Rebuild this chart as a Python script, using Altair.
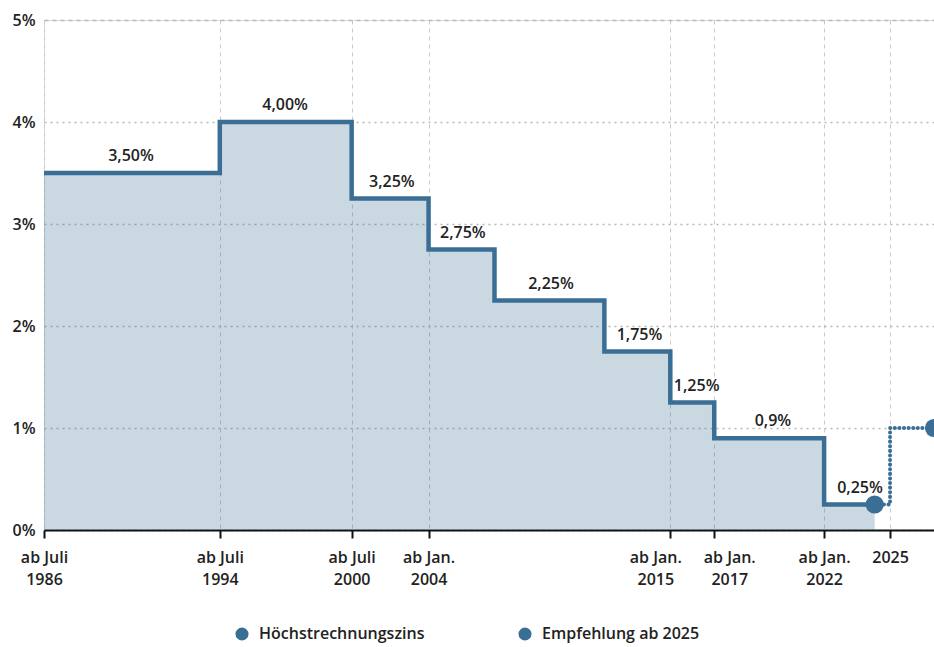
import altair as alt
import pandas as pd

# --- data ---
step_years = [1986.5, 1994.5, 2000.5, 2004, 2007, 2012, 2015, 2017, 2022, 2024.3]
step_rates = [3.5, 4.0, 3.25, 2.75, 2.25, 1.75, 1.25, 0.9, 0.25, 0.25]

rec_years = [2024.3, 2025, 2027]
rec_rates = [0.25, 1.0, 1.0]

label_texts = ["3,50%", "4,00%", "3,25%", "2,75%", "2,25%", "1,75%", "1,25%", "0,9%", "0,25%"]
label_years = [1990.46, 1997.47, 2002.33, 2005.56, 2009.57, 2013.6, 2016.2, 2019.67, 2023.63]
label_rates = [3.5, 4.0, 3.25, 2.75, 2.25, 1.75, 1.25, 0.9, 0.25]

tick_values = [1986.5, 1994.5, 2000.5, 2004, 2015, 2017, 2022, 2025]
tick_labels = ["ab Juli|1986", "ab Juli|1994", "ab Juli|2000", "ab Jan.|2004",
               "ab Jan.|2015", "ab Jan.|2017", "ab Jan.|2022", "2025"]

dot_years = [2024.3, 2027]
dot_rates = [0.25, 1.0]
series_names = ["Höchstrechnungszins", "Empfehlung ab 2025"]

# --- styling ---
LINE = "#3b6e95"
FONT = "Open Sans"
FW = 600
FS = 16
TXT = "#222222"

step_df = pd.DataFrame({"year": step_years, "rate": step_rates})
rec_df = pd.DataFrame({"year": rec_years, "rate": rec_rates})
lab_df = pd.DataFrame({"year": label_years, "rate": label_rates, "text": label_texts})
dot_df = pd.DataFrame({"year": dot_years, "rate": dot_rates, "series": series_names})

label_expr = "split([" + ",".join("'%s'" % t for t in tick_labels) + "][indexof([" + \
    ",".join(str(v) for v in tick_values) + "], datum.value)], '|')"

xscale = alt.Scale(domain=[1986.5, 2027], nice=False, zero=False)
yscale = alt.Scale(domain=[0, 5], nice=False)

xaxis = alt.Axis(values=tick_values, labelExpr=label_expr, title=None,
                 grid=True, gridColor="#c8c8c8", gridDash=[4, 4], gridWidth=1,
                 domainColor="#111111", domainWidth=2, tickColor="#111111", tickWidth=2,
                 tickSize=8, labelFont=FONT, labelFontSize=FS, labelFontWeight=FW,
                 labelColor=TXT, labelPadding=11, labelLineHeight=22, labelFlush=False,
                 labelOverlap=False,
                 labelOffset={"condition": [{"test": "datum.value === 2015", "value": -15},
                                            {"test": "datum.value === 2017", "value": 15}],
                              "value": 0})
yaxis = alt.Axis(values=[0, 1, 2, 3, 4, 5], labelExpr="datum.value + '%'", title=None,
                 grid=True, gridColor="#b8b8b8", gridWidth=1.3,
                 gridDash={"condition": {"test": "datum.value === 5", "value": [4, 4]}, "value": [2, 4]},
                 domain=False, ticks=False, labelFont=FONT, labelFontSize=FS,
                 labelFontWeight=FW, labelColor=TXT, labelPadding=9)

x = alt.X("year:Q", scale=xscale, axis=xaxis)
y = alt.Y("rate:Q", scale=yscale, axis=yaxis)

area = alt.Chart(step_df).mark_area(interpolate="step-after", color=LINE, opacity=0.27).encode(x=x, y=y)
line = alt.Chart(step_df).mark_line(interpolate="step-after", color=LINE, strokeWidth=4.5).encode(
    x=alt.X("year:Q", scale=xscale), y=alt.Y("rate:Q", scale=yscale))
rec = alt.Chart(rec_df).mark_line(interpolate="step-after", color=LINE, strokeWidth=4,
                                  strokeDash=[0.1, 4.5], strokeCap="round").encode(
    x=alt.X("year:Q", scale=xscale), y=alt.Y("rate:Q", scale=yscale))
dots = alt.Chart(dot_df).mark_point(filled=True, opacity=1, size=330, shape="circle").encode(
    x=alt.X("year:Q", scale=xscale), y=alt.Y("rate:Q", scale=yscale),
    color=alt.Color("series:N", scale=alt.Scale(domain=series_names, range=[LINE, LINE]),
                    legend=alt.Legend(title=None, orient="none", direction="horizontal",
                                      legendX=190, legendY=606, columnPadding=92,
                                      symbolType="circle", symbolSize=170, symbolStrokeWidth=0,
                                      labelFont=FONT, labelFontSize=FS, labelFontWeight=FW,
                                      labelColor=TXT, labelOffset=9, labelLimit=400)))
labels = alt.Chart(lab_df).mark_text(font=FONT, fontSize=FS, fontWeight=FW, color=TXT,
                                     baseline="alphabetic", dy=-12).encode(
    x=alt.X("year:Q", scale=xscale), y=alt.Y("rate:Q", scale=yscale), text="text:N")

chart = alt.layer(area, line, rec, dots, labels).properties(
    width=890, height=510,
    autosize=alt.AutoSizeParams(type="none"),
    padding={"left": 44, "top": 20, "right": 0, "bottom": 117},
).configure_view(stroke=None).configure(background="white")

chart.save("out.html", embed_options={"renderer": "svg", "actions": False})
